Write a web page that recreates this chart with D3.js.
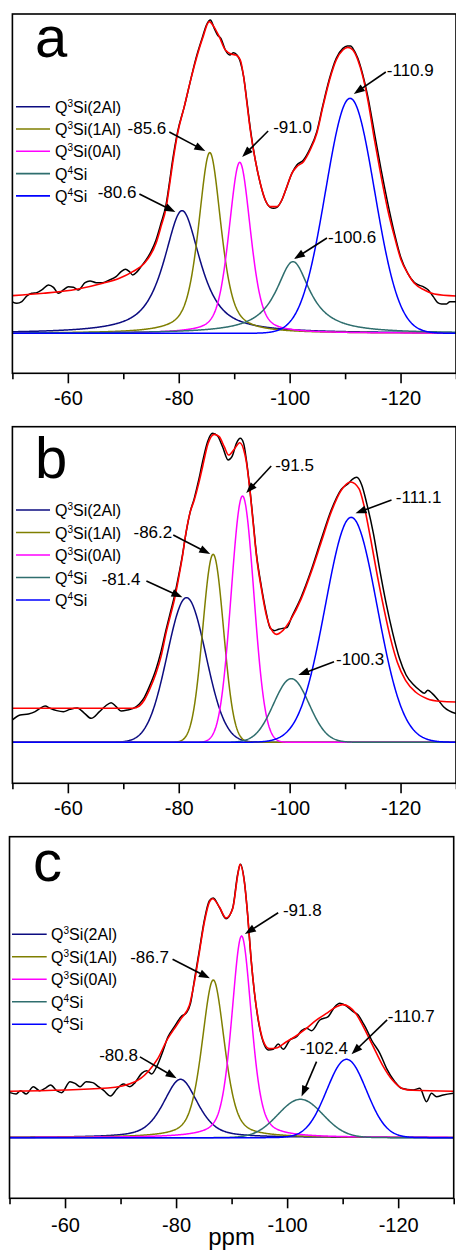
<!DOCTYPE html>
<html>
<head>
<meta charset="utf-8">
<script src="https://cdn.jsdelivr.net/npm/d3@7"></script>
<style>
  html, body { margin: 0; padding: 0; background: #fff; }
  svg { display: block; font-family: Arial, "Liberation Sans", sans-serif; }
</style>
</head>
<body>
<svg id="chart" width="456" height="1250"></svg>
<script>
// ---------- axis ----------
const xDomain = [-50, -130];
const majorTicks = [-60, -80, -100, -120];
const minorTicks = [-50, -70, -90, -110, -130];
const axisTitle = "ppm";
const panelLetters = ["a", "b", "c"];

// ---------- deconvolution components (Q^n species) ----------
const componentNames = [
  ["Q", "3", "Si(2Al)"],
  ["Q", "3", "Si(1Al)"],
  ["Q", "3", "Si(0Al)"],
  ["Q", "4", "Si"],
  ["Q", "4", "Si"]
];

// sample a: peak centre (ppm), height (a.u.), FWHM (ppm), Lorentzian fraction
const centersA = [-80.6, -85.6, -91.0, -100.6, -110.9];
const heightsA = [36.8, 54.2, 51.3, 21.5, 70.5];
const widthsA  = [7.8, 4.8, 4.6, 7.4, 10.4];
const lorentzA = [0.8, 0.55, 0.4, 1.0, 0.0];

// sample b
const centersB = [-81.4, -86.2, -91.5, -100.3, -111.1];
const heightsB = [43.4, 56.4, 73.9, 19.1, 67.5];
const widthsB  = [8.2, 4.4, 4.8, 7.5, 11.0];
const lorentzB = [0, 0, 0, 0, 0];

// sample c
const centersC = [-80.8, -86.7, -91.8, -102.4, -110.7];
const heightsC = [17.5, 47.3, 60.5, 11.5, 23.5];
const widthsC  = [7.3, 4.8, 4.2, 9.5, 8.4];
const lorentzC = [0.5, 0.45, 0.42, 0, 0];

// ---------- measured spectra [ppm, intensity] ----------
const spectrumA = [[-49.9,9.5],[-50.8,9.0],[-51.7,9.5],[-52.6,11.2],[-53.5,12.0],[-54.4,12.2],[-55.3,13.0],[-56.5,14.5],[-57.4,13.8],[-58.3,12.0],[-59.2,13.0],[-60.1,14.0],[-61.0,13.8],[-61.9,13.0],[-63.1,15.2],[-64.0,15.7],[-65.1,15.2],[-66.3,15.2],[-67.5,16.0],[-68.7,17.0],[-69.6,18.5],[-70.4,19.2],[-71.1,18.5],[-71.7,17.5],[-72.5,18.5],[-73.2,20.0],[-74.1,22.0],[-75.0,24.5],[-75.9,28],[-76.8,33],[-77.7,38.5],[-78.3,45],[-78.9,52],[-79.8,60.5],[-81.0,68],[-82.0,75],[-83.1,82.5],[-84.3,89],[-85.0,92.5],[-85.7,94],[-86.4,91.5],[-87.0,89.5],[-87.6,88.5],[-88.4,85],[-89.2,83.5],[-89.9,84.2],[-90.5,83.5],[-91.1,81.5],[-91.7,77],[-92.3,69.5],[-92.9,61.5],[-93.8,52],[-94.7,45],[-95.6,40],[-96.5,37.8],[-97.1,37.5],[-97.7,37.8],[-98.6,40],[-99.5,44],[-100.4,48],[-101.3,50.5],[-102.5,52],[-103.7,55.5],[-104.9,60.5],[-106.0,68.5],[-107.2,76.5],[-108.4,82.5],[-109.6,85.5],[-110.4,86.2],[-111.0,86.2],[-111.4,85.5],[-112.3,82.5],[-113.2,77.5],[-114.1,71],[-115.3,60],[-116.5,49],[-117.7,39],[-118.9,30],[-120.1,22.5],[-121.3,18],[-122.5,15.2],[-124.3,13.8],[-125.0,13.0],[-125.9,11.0],[-126.7,9.2],[-127.4,8.8],[-128.3,8.8],[-128.9,9.5],[-130,9.5]];

const spectrumB = [[-50.0,6.7],[-51.4,8.2],[-52.9,8.5],[-54.1,9.2],[-55.0,10.2],[-55.9,10.9],[-56.8,10.2],[-58.0,9.5],[-59.2,9.2],[-60.4,9.9],[-61.7,10.3],[-63.0,8.7],[-64.2,7.2],[-65.7,9.2],[-66.8,10.9],[-67.8,11.9],[-68.7,10.7],[-69.6,9.4],[-70.8,9.7],[-71.7,10.1],[-72.9,11.5],[-73.8,13.5],[-74.7,16.7],[-75.9,21.9],[-76.8,27.2],[-77.7,33.7],[-78.6,39.7],[-79.2,43.7],[-80.0,50.2],[-80.7,56.5],[-81.3,62.7],[-82.0,68.7],[-82.8,73.2],[-83.6,78.7],[-84.3,84.2],[-85.2,90.2],[-86.1,92.7],[-87.0,91.9],[-87.9,88.7],[-88.9,84.7],[-89.6,85.7],[-90.4,89.7],[-91.1,91.2],[-91.7,89.7],[-92.2,84.7],[-92.8,76.5],[-93.4,66.7],[-94.0,56.7],[-94.9,46.7],[-95.8,38.7],[-96.5,34.2],[-97.3,33.5],[-98.0,33.9],[-98.8,34.2],[-99.5,34.4],[-100.4,37.7],[-102.1,43.7],[-103.9,51.7],[-105.7,60.9],[-107.5,69.7],[-109.3,75.9],[-110.6,77.7],[-111.3,78.9],[-112.1,79.5],[-113.0,77.2],[-113.9,71.7],[-115.1,62.7],[-116.2,52.2],[-117.4,41.7],[-118.6,32.7],[-119.8,25.2],[-121.0,20.2],[-122.4,17.2],[-123.4,15.7],[-124.3,14.7],[-124.9,15.6],[-125.7,14.7],[-126.6,13.1],[-127.8,10.6],[-130,8.6]];

const spectrumC = [[-50.1,13.5],[-51.2,13.1],[-52.0,14.1],[-53.0,13.1],[-54.3,15.3],[-55.4,14.1],[-56.4,14.8],[-57.4,15.8],[-58.5,14.1],[-59.4,13.5],[-60.9,16.8],[-61.8,16.3],[-62.7,15.3],[-63.8,16.8],[-65.0,16.5],[-66.0,15.3],[-67.0,14.1],[-68.2,12.5],[-69.3,14.5],[-70.5,16.1],[-71.7,15.3],[-72.6,16.5],[-73.8,19.3],[-74.7,20.1],[-75.6,19.1],[-76.5,21.3],[-77.7,26.3],[-78.5,30.1],[-79.7,33.3],[-80.9,36.3],[-81.9,37.5],[-82.6,40.3],[-83.3,47.3],[-84.2,56.3],[-85.1,65.3],[-86.0,71.1],[-86.7,71.9],[-87.8,69.1],[-89.0,65.7],[-90.2,68.9],[-91.1,79.1],[-91.6,82.0],[-92.3,76.9],[-92.9,66.7],[-93.5,53.7],[-94.1,43.7],[-95.0,33.3],[-95.9,27.8],[-96.6,26.3],[-97.5,26.5],[-98.4,28.1],[-99.3,26.5],[-100.5,29.3],[-101.7,30.3],[-102.6,32.1],[-103.5,32.8],[-104.4,32.1],[-105.9,35.3],[-107.4,36.3],[-108.6,39.3],[-109.5,40.3],[-110.7,39.5],[-111.9,37.8],[-112.8,36.8],[-113.7,34.3],[-114.3,32.5],[-115.2,29.3],[-116.7,25.3],[-117.9,20.8],[-119.4,16.8],[-120.6,14.8],[-122.7,14.3],[-123.9,14.8],[-125.1,10.8],[-126.0,13.3],[-126.9,12.3],[-128.1,12.8],[-130,13.3]];

// ---------- fitted envelopes [ppm, intensity] ----------
const fitA = [[-50,11.3],[-55.6,12.0],[-61.6,13.2],[-66.3,15.0],[-69.3,16.5],[-71.7,18.5],[-73.8,21.0],[-75.9,27.0],[-76.8,32.0],[-77.7,37.5],[-78.3,44],[-78.9,51],[-79.8,60],[-81.0,68],[-82.0,75],[-83.1,82],[-84.3,88.5],[-85.5,93.5],[-86.4,91.8],[-87.3,89],[-88.4,85],[-89.6,83.7],[-90.3,83.5],[-91.1,82],[-91.7,77],[-92.3,69],[-92.9,61],[-93.8,52],[-94.7,45],[-95.6,40],[-96.5,38],[-97.7,38],[-98.6,40],[-99.5,44],[-100.4,48],[-101.3,50],[-102.5,51.5],[-103.7,55],[-104.9,60],[-106.0,68],[-107.2,76],[-108.4,82],[-109.6,85],[-110.5,85.8],[-111.4,85],[-112.3,82],[-113.2,77],[-114.1,70],[-115.3,58],[-116.5,47],[-117.7,37],[-118.9,29],[-120.1,22],[-121.3,18],[-122.5,15],[-124.3,13],[-126.1,11.8],[-130,11.2]];

const fitB = [[-50,10.2],[-71.7,10.2],[-72.9,10.9],[-73.8,12.7],[-74.7,15.7],[-75.9,20.7],[-76.8,25.7],[-77.7,32.7],[-78.6,38.7],[-79.2,42.7],[-80.0,49.5],[-80.7,56.2],[-81.3,62.9],[-82.0,68.7],[-82.8,72.7],[-83.6,77.7],[-84.3,82.7],[-85.3,89.7],[-86.4,92.4],[-87.3,91.7],[-88.2,88.7],[-89.0,86.2],[-89.9,87.7],[-91.0,89.9],[-91.9,86.6],[-92.2,84.1],[-92.8,76.1],[-93.4,66.1],[-94.0,56.1],[-94.9,46.1],[-95.8,38.1],[-97.0,33.1],[-97.6,32.4],[-98.8,33.6],[-100.3,37.1],[-102.1,43.1],[-103.9,51.1],[-105.7,60.1],[-107.5,69.1],[-109.3,75.6],[-111.0,78.1],[-112.5,76.1],[-113.4,71.1],[-114.6,61.1],[-115.8,50.1],[-117.0,40.1],[-118.2,31.1],[-119.4,24.1],[-120.9,18.6],[-122.7,15.1],[-124.8,13.1],[-127.2,12.3],[-130,12.1]];

const fitC = [[-50,13.9],[-67.7,14.9],[-72.5,16.7],[-74.9,19.7],[-76.7,23.7],[-78.5,29.7],[-79.7,32.7],[-80.9,35.7],[-82.4,39.7],[-83.3,46.7],[-84.2,55.7],[-85.1,64.7],[-86.0,70.7],[-86.6,71.7],[-87.8,69.2],[-89.0,65.9],[-90.2,68.7],[-91.1,78.7],[-91.5,82.0],[-92.3,76.7],[-92.9,66.7],[-93.5,53.7],[-94.1,43.7],[-95.0,33.7],[-95.9,28.2],[-96.8,26.7],[-98.0,26.9],[-99.8,28.7],[-101.6,30.5],[-103.4,32.7],[-105.2,35.2],[-107.0,37.2],[-108.8,39.2],[-110.0,39.9],[-111.2,39.2],[-112.4,37.2],[-113.6,33.7],[-115.4,27.7],[-117.2,21.7],[-119.0,17.2],[-120.8,14.7],[-122.6,14.2],[-130,13.9]];

// ---------- styling ----------
const componentColors = ["#0c0c80", "#7f7f00", "#ff00ff", "#2f6e6e", "#0000ff"];
const spectrumColor = "#000000";
const fitColor = "#ff0000";

// ---------- layout ----------
const panels = [
  { frame: { left: 12.4, right: 456, top: 14, bottom: 373.3 }, yDomain: [-12, 95.8],
    legend: { x0: 16, x1: 50, tx: 55, y0: 106.7, dy: 22.3 }, letter: { x: 35, y: 57 },
    centers: centersA, heights: heightsA, widths: widthsA, lorentz: lorentzA,
    spectrum: spectrumA, fit: fitA,
    notes: [
      { tip: [-6.7, 1.4], tail: [-42.7, -16.6], text: [-45.7, -12.6], anchor: "end" },
      { tip: [-4.5, -1.6], tail: [-40.5, -20.6], text: [-43.5, -18.6], anchor: "end" },
      { tip: [2.4, -5.3], tail: [28.4, -31.3], text: [33.4, -29.3], anchor: "start" },
      { tip: [1, -2.6], tail: [34, -23.6], text: [35, -18.6], anchor: "start" },
      { tip: [3.7, -4.3], tail: [35.7, -26.3], text: [36.7, -22.3], anchor: "start" }
    ] },
  { frame: { left: 12.4, right: 456, top: 426.7, bottom: 783.3 }, yDomain: [-12.3, 94.7],
    legend: { x0: 16, x1: 50, tx: 55, y0: 510, dy: 22.5 }, letter: { x: 35, y: 478 },
    centers: centersB, heights: heightsB, widths: widthsB, lorentz: lorentzB,
    spectrum: spectrumB, fit: fitB,
    notes: [
      { tip: [-4.1, -0.3], tail: [-40.1, -16.6], text: [-46.1, -12.6], anchor: "end" },
      { tip: [-2.9, -0.3], tail: [-39.9, -19.3], text: [-40.9, -16], anchor: "end" },
      { tip: [3.7, -3], tail: [28.7, -30], text: [32.7, -25], anchor: "start" },
      { tip: [7, -3.6], tail: [42.7, -16.9], text: [44.7, -13.6], anchor: "start" },
      { tip: [4.3, -4], tail: [40.3, -17.3], text: [44.6, -14], anchor: "start" }
    ] },
  { frame: { left: 9.5, right: 453.7, top: 836.7, bottom: 1198.3 }, yDomain: [-18.2, 90.3],
    legend: { x0: 12, x1: 46.7, tx: 51, y0: 934.3, dy: 22.5 }, letter: { x: 33, y: 881 },
    centers: centersC, heights: heightsC, widths: widthsC, lorentz: lorentzC,
    spectrum: spectrumC, fit: fitC,
    notes: [
      { tip: [-3.9, -1.1], tail: [-40.6, -22.4], text: [-42.6, -18.7], anchor: "end" },
      { tip: [-3.4, -1.7], tail: [-40.7, -20.7], text: [-44.4, -16.7], anchor: "end" },
      { tip: [3.3, -2], tail: [36.6, -23.3], text: [41.3, -20], anchor: "start" },
      { tip: [1.1, -2.7], tail: [16.1, -37.7], text: [23.4, -45.1], anchor: "middle" },
      { tip: [5, -5.1], tail: [40.6, -39.4], text: [41.3, -37.7], anchor: "start" }
    ] }
];

// pseudo-Voigt line shape of one fitted component
function profile(ppm, c, h, w, eta) {
  const t = (ppm - c) / w;
  const lor = 1 / (1 + 4 * t * t);
  const gau = Math.exp(-4 * Math.LN2 * t * t);
  return h * (eta * lor + (1 - eta) * gau);
}

const svg = d3.select("#chart");
const grid = d3.range(0, 801).map(i => xDomain[0] - i * 0.1);

function drawArrow(g, tail, tip) {
  const dx = tip[0] - tail[0], dy = tip[1] - tail[1];
  const len = Math.hypot(dx, dy), ux = dx / len, uy = dy / len;
  const hl = 11, hw = 4;
  const bx = tip[0] - ux * hl, by = tip[1] - uy * hl;
  g.append("line")
    .attr("x1", tail[0]).attr("y1", tail[1])
    .attr("x2", bx + ux * 2).attr("y2", by + uy * 2)
    .attr("stroke", "#000").attr("stroke-width", 1.6);
  g.append("path")
    .attr("d", `M${tip[0]},${tip[1]}L${bx - uy * hw},${by + ux * hw}L${bx + uy * hw},${by - ux * hw}Z`)
    .attr("fill", "#000");
}

panels.forEach((p, pi) => {
  const f = p.frame;
  const x = d3.scaleLinear().domain(xDomain).range([f.left, f.right]);
  const y = d3.scaleLinear().domain(p.yDomain).range([f.bottom, f.top]);
  const g = svg.append("g");

  const clipId = "clip" + pi;
  g.append("clipPath").attr("id", clipId).append("rect")
    .attr("x", f.left).attr("y", f.top)
    .attr("width", f.right - f.left).attr("height", f.bottom - f.top);

  const plot = g.append("g").attr("clip-path", `url(#${clipId})`);
  const line = d3.line().x(d => x(d[0])).y(d => y(d[1]));

  // fitted components
  p.centers.forEach((c, i) => {
    const pts = grid.map(v => [v, profile(v, c, p.heights[i], p.widths[i], p.lorentz[i])]);
    plot.append("path").datum(pts)
      .attr("d", line)
      .attr("fill", "none")
      .attr("stroke", componentColors[i])
      .attr("stroke-width", 1.5);
  });

  // measured spectrum and fitted envelope
  const smooth = d3.line().x(d => x(d[0])).y(d => y(d[1])).curve(d3.curveMonotoneX);
  plot.append("path").datum(p.spectrum)
    .attr("d", smooth).attr("fill", "none")
    .attr("stroke", spectrumColor).attr("stroke-width", 1.5);
  plot.append("path").datum(p.fit)
    .attr("d", smooth).attr("fill", "none")
    .attr("stroke", fitColor).attr("stroke-width", 1.6);

  // frame
  g.append("rect")
    .attr("x", f.left).attr("y", f.top)
    .attr("width", f.right - f.left).attr("height", f.bottom - f.top)
    .attr("fill", "none").attr("stroke", "#000").attr("stroke-width", 1.6);

  // bottom axis: labelled major ticks and unlabelled minor ticks
  const major = g.append("g").attr("transform", `translate(0,${f.bottom})`)
    .call(d3.axisBottom(x).tickValues(majorTicks).tickSize(10).tickPadding(pi === 2 ? 10 : 8)
      .tickFormat(d => String(d)));
  major.select(".domain").remove();
  major.selectAll("line").attr("stroke-width", 1.6);
  major.selectAll("text").attr("font-size", 20).attr("fill", "#000")
    .attr("font-family", 'Arial, "Liberation Sans", sans-serif');
  const minor = g.append("g").attr("transform", `translate(0,${f.bottom})`)
    .call(d3.axisBottom(x).tickValues(minorTicks).tickSize(6).tickFormat(""));
  minor.select(".domain").remove();
  minor.selectAll("line").attr("stroke-width", 1.6);

  // panel letter
  g.append("text").attr("x", p.letter.x).attr("y", p.letter.y)
    .attr("font-size", 58).attr("fill", "#000").text(panelLetters[pi]);

  // legend
  componentNames.forEach((n, i) => {
    const ly = p.legend.y0 + i * p.legend.dy;
    g.append("line").attr("x1", p.legend.x0).attr("x2", p.legend.x1)
      .attr("y1", ly).attr("y2", ly)
      .attr("stroke", componentColors[i]).attr("stroke-width", 1.6);
    const t = g.append("text").attr("x", p.legend.tx).attr("y", ly + 6)
      .attr("font-size", 16).attr("fill", "#000");
    t.append("tspan").text(n[0]);
    t.append("tspan").attr("font-size", 10).attr("dy", -6).text(n[1]);
    t.append("tspan").attr("dy", 6).text(n[2]);
  });

  // peak position labels with arrows
  p.centers.forEach((c, i) => {
    const ax = x(c), ay = y(p.heights[i]);
    const n = p.notes[i];
    drawArrow(g, [ax + n.tail[0], ay + n.tail[1]], [ax + n.tip[0], ay + n.tip[1]]);
    g.append("text")
      .attr("x", ax + n.text[0]).attr("y", ay + n.text[1])
      .attr("text-anchor", n.anchor)
      .attr("font-size", 17).attr("fill", "#000")
      .text(c.toFixed(1));
  });

  if (pi === 2) {
    g.append("text")
      .attr("x", (f.left + f.right) / 2).attr("y", 1245)
      .attr("text-anchor", "middle").attr("font-size", 24).attr("fill", "#000")
      .text(axisTitle);
  }
});
</script>
</body>
</html>
